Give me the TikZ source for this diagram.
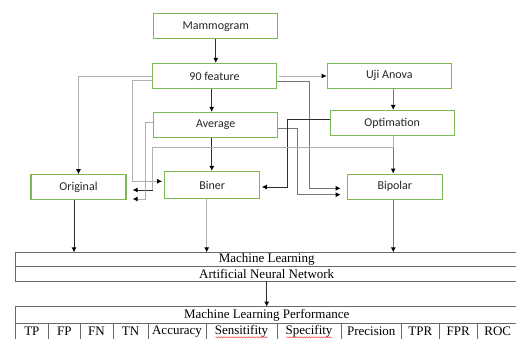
\documentclass[tikz,border=0pt]{standalone}
\usepackage{fontspec}
\setmainfont{Liberation Serif}
\newfontfamily\boxfont{Carlito}
\usetikzlibrary{arrows.meta,positioning,decorations.pathmorphing}
\definecolor{boxgreen}{RGB}{125,185,85}
\definecolor{lightline}{RGB}{175,175,175}
\definecolor{midline}{RGB}{120,120,120}
\definecolor{darkline}{RGB}{45,45,45}
\definecolor{tabline}{RGB}{105,105,105}

\begin{document}
\begin{tikzpicture}[x=1pt, y=-1pt,
    box/.style={draw=boxgreen, line width=1.2pt, fill=white, minimum width=124pt, minimum height=25pt, inner sep=0pt, font=\boxfont\fontsize{12}{14}\selectfont, text=black!85},
    smallbox/.style={box, minimum width=95pt},
    tabrow/.style={draw=tabline, line width=0.8pt, outer sep=0pt, inner sep=0pt, minimum width=503.4pt, font=\fontsize{13}{15}\selectfont},
    tabcell/.style={draw=tabline, line width=0.8pt, outer sep=0pt, inner sep=0pt, minimum height=16.6pt, font=\fontsize{13}{15}\selectfont},
    arr/.style={-{Latex[length=5pt, width=5pt, color=black]}},
    light/.style={arr, draw=lightline, line width=0.9pt},
    mid/.style={arr, draw=midline, line width=0.9pt},
    dark/.style={arr, draw=darkline, line width=0.9pt},
    spell/.style={draw=red!75, line width=0.5pt, decorate, decoration={snake, segment length=2.5pt, amplitude=0.6pt}}
]
    \useasboundingbox (0,0) rectangle (516,338);

    \node[box] (mammo) at (215.8,26.3) {Mammogram};
    \node[box] (feat) at (214.5,76) {90 feature};
    \node[box] (anova) at (389.3,75.7) {Uji Anova};
    \node[box] (avg) at (215.8,125) {Average};
    \node[box] (optim) at (392.2,123) {Optimation};
    \node[smallbox] (orig) at (78.5,187.3) {Original};
    \node[smallbox, minimum height=27pt] (biner) at (212.2,185) {Biner};
    \node[smallbox] (bipol) at (394.8,186.7) {Bipolar};

    \node[tabrow, minimum height=13.7pt] (ml) at (266.7,259.2) {Machine Learning};
    \node[tabrow, minimum height=15pt, below=0pt of ml] (ann) {Artificial Neural Network};
    \node[tabrow, minimum height=16.6pt] (mlp) at (266.7,315) {Machine Learning Performance};
    \node[tabcell, minimum width=33.7pt, anchor=north west] (tp) at (mlp.south west) {TP};
    \node[tabcell, minimum width=31.3pt, right=0pt of tp] (fp) {FP};
    \node[tabcell, minimum width=33pt, right=0pt of fp] (fn) {FN};
    \node[tabcell, minimum width=35pt, right=0pt of fn] (tn) {TN};
    \node[tabcell, minimum width=58pt, right=0pt of tn] (acc) {Accuracy};
    \node[tabcell, minimum width=71pt, right=0pt of acc] (sens) {Sensitifity};
    \node[tabcell, minimum width=64pt, right=0pt of sens] (spec) {Specifity};
    \node[tabcell, minimum width=60.5pt, right=0pt of spec] (prec) {Precision};
    \node[tabcell, minimum width=37.8pt, right=0pt of prec] (tpr) {TPR};
    \node[tabcell, minimum width=37.7pt, right=0pt of tpr] (fpr) {FPR};
    \node[tabcell, minimum width=41.4pt, right=0pt of fpr] (roc) {ROC};
    \draw[spell] ([xshift=-26pt, yshift=-2.5pt]sens.base) -- ([xshift=26pt, yshift=-2.5pt]sens.base);
    \draw[spell] ([xshift=-23pt, yshift=-2.5pt]spec.base) -- ([xshift=23pt, yshift=-2.5pt]spec.base);

    \draw[dark] (mammo.south) -- (mammo.south |- feat.north);
    \draw[light, shorten <=2pt] (feat.east) -- (feat.east -| anova.west);
    \draw[dark] ([xshift=-2.8pt]feat.south) -- ([xshift=-2.8pt]feat.south |- avg.north);
    \draw[mid] ([xshift=1pt]optim.north |- anova.south) -- ([xshift=1pt]optim.north);
    \draw[dark] ([xshift=-4pt]avg.south) -- ([xshift=-4pt]avg.south |- biner.north);
    \draw[mid] ([xshift=1pt]optim.south) -- ([xshift=1pt]optim.south |- bipol.north);

    \draw[light] (feat.west) -| (orig.north);
    \draw[light] ([yshift=-4.3pt]feat.west) -- ++(-19,0) |- ([yshift=3.7pt, xshift=-2pt]biner.west);
    \draw[mid] ([yshift=-5.7pt]feat.east) -- ++(32.6,0) |- ([yshift=-1.6pt, xshift=-6pt]bipol.west);
    \draw[mid] ([yshift=-3pt]avg.east) -- ++(19.4,0) |- ([yshift=-8pt, xshift=-6pt]bipol.west);
    \draw[dark] ([yshift=3.7pt]optim.west) -- ++(-42,0) |- ([yshift=-2pt, xshift=1.5pt]biner.east);
    \draw[light, -] ([xshift=1pt]optim.south) -- ++(0,11.3) -| (152.7,190) coordinate (bend);
    \draw[dark] (bend) -- ([yshift=-2.7pt, xshift=6pt]orig.east);
    \draw[light] ([yshift=2.3pt]avg.west) -- ++(-7.6,0) |- ([yshift=-11.7pt, xshift=6pt]orig.east);

    \draw[dark] ([xshift=-4.5pt]orig.south) -- ([xshift=-4.5pt]orig.south |- ml.north);
    \draw[light] ([xshift=-5.5pt]biner.south) -- ([xshift=-5.5pt]biner.south |- ml.north);
    \draw[mid] ([xshift=-1.5pt]bipol.south) -- ([xshift=-1.5pt]bipol.south |- ml.north);
    \draw[dark] (ann.south) -- (mlp.north);
\end{tikzpicture}
\end{document}
